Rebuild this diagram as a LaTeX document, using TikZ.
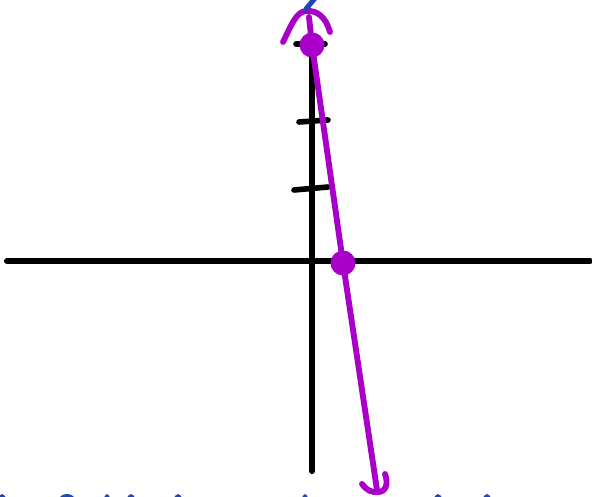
\documentclass[tikz,border=0pt]{standalone}
\usepackage{tikz}
\usetikzlibrary{arrows.meta}

\definecolor{penpurple}{RGB}{168,0,200}
\definecolor{penblue}{RGB}{30,72,180}

\begin{document}
\begin{tikzpicture}[x=0.75pt, y=-0.75pt,
    axisline/.style={line width=4.6pt, line cap=round, black},
    tickline/.style={line width=4.2pt, line cap=round, black},
    penline/.style={line width=4.4pt, line cap=round, line join=round, penpurple},
    pendot/.style={fill=penpurple}]

  % ====== 1) 画布 ======
  \useasboundingbox (0,0) rectangle (592,496);
  \clip (0,0) rectangle (592,496);

  % ====== 2) 坐标与点 ======
  \coordinate (O) at (312,261);
  \coordinate (L) at (7,261);
  \coordinate (R) at (590,261);
  \coordinate (T) at (312,40);
  \coordinate (B) at (312,471);
  \coordinate (P) at (312,45);     % 上面的点
  \coordinate (Q) at (343,263);    % 与 x 轴的交点
  \coordinate (A) at (309,17);     % 上端
  \coordinate (E) at (377,490);    % 下端

  % ====== 3) 坐标轴 ======
  \draw[axisline] (L) -- (R);
  \draw[axisline] (T) -- (B);

  % ====== 4) 刻度 ======
  \draw[tickline] (296,44) -- (325,44);
  \draw[tickline] (299,122) -- (328,120);
  \draw[tickline] (294,190) -- (328,187);

  % ====== 5) 直线（手写） ======
  \draw[penline] (A) -- (P) -- (Q) -- (E);

  % ====== 6) 两端的箭头 ======
  \draw[penline] (283,42) .. controls (292,24) and (296,12) .. (306,11)
                 .. controls (318,10) and (326,18) .. (330,32);
  \draw[penline] (362,484) .. controls (366,490) and (372,493) .. (379,492)
                 .. controls (387,491) and (388,482) .. (385,474);

  % ====== 7) 点 ======
  \fill[pendot] (P) circle (12.5);
  \fill[pendot] (Q) circle (12.5);

  % ====== 8) 蓝色笔迹（被截掉） ======
  \draw[line width=3.8pt, line cap=round, penblue] (306,9) -- (316,-3);
  \foreach \x/\w in {2/4, 67/8, 107/3, 131/4, 178/4, 305/3, 438/4, 487/4}
    \fill[penblue] (\x,500) ellipse ({\w} and 6);

\end{tikzpicture}
\end{document}
